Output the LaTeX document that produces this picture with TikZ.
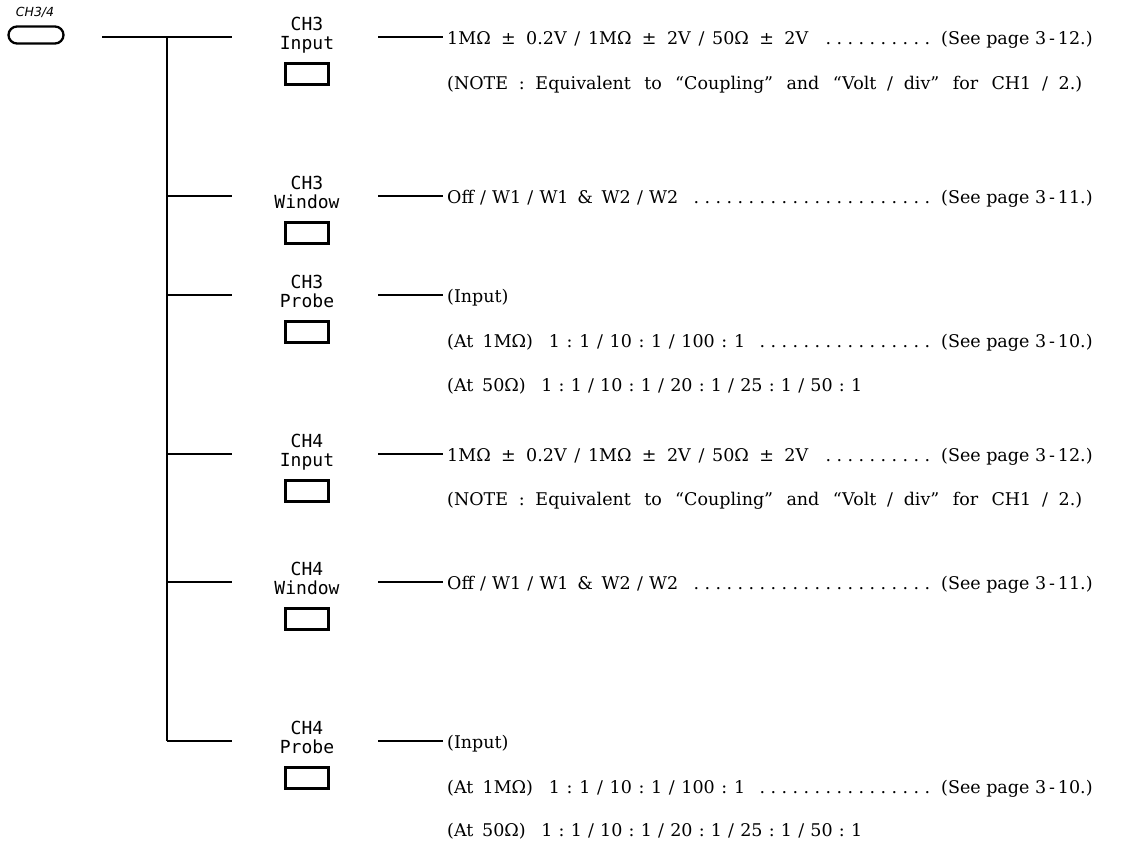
\documentclass[tikz,border=0pt]{standalone}
\usepackage{fontspec}
\setmainfont{DejaVu Serif}
\newfontfamily\labfont{DejaVu Sans Mono}
\newfontfamily\tagfont{DejaVu Sans}
\newcommand\leaderdots[1]{\hbox to #1\dimexpr 11pt\relax{\xleaders\hbox to 11pt{\hss.\hss}\hfill}}
% separator with stretchable spacing
\newcommand\sep[1]{\hspace{0.17em plus 1fil}#1\hspace{0.17em plus 1fil}}
\newcommand\fitto[2]{\hbox to #1pt{#2}}
\newcommand\bodyfont{\fontsize{17.5}{17.5}\selectfont\spaceskip=0.32em plus 1fil\relax}
\tikzset{
  conn/.style={line width=1.5pt},
  btn/.style={draw, line width=3pt, minimum width=43pt, minimum height=21pt, inner sep=0pt},
  lab/.style={font=\labfont\fontsize{18}{18}\selectfont, inner sep=0pt, anchor=base},
  txt/.style={anchor=base west, inner sep=0pt, font=\bodyfont},
  see/.style={anchor=base west, inner sep=0pt, font=\fontsize{17.5}{17.5}\selectfont},
  dts/.style={anchor=base east, inner sep=0pt, font=\fontsize{17.5}{17.5}\selectfont},
}
\newcommand\unit[4]{%
  \node[lab] (#1t) at (307,#2-7) {#3};
  \node[lab] (#1u) at (307,#2+12) {#4};
  \node[btn] (#1b) at (307,#2+37) {};
  \coordinate (#1T) at (167,#2);
  \coordinate (#1L) at (232,#2);
  \coordinate (#1R) at (378,#2);
  \coordinate (#1E) at (443,#2);
  \draw[conn] (#1T) -- (#1L);
  \draw[conn] (#1R) -- (#1E);
}
\begin{document}
\begin{tikzpicture}[x=1pt,y=-1pt]
\useasboundingbox (0,0) rectangle (1126,841);
% main switch
\node[draw, line width=2.3pt, rounded corners=8.5pt, minimum width=55pt, minimum height=17pt, inner sep=0pt] (sw) at (36,35) {};
\node[font=\tagfont\itshape\fontsize{12.5}{12.5}\selectfont, inner sep=0pt] (swl) at (35,12) {CH3/4};
\coordinate (h0) at (102,37);
\coordinate (top) at (167,37);
\unit{a}{37}{CH3}{Input}
\unit{b}{196}{CH3}{Window}
\unit{c}{295}{CH3}{Probe}
\unit{d}{454}{CH4}{Input}
\unit{e}{582}{CH4}{Window}
\unit{f}{741}{CH4}{Probe}
\draw[conn] (h0) -- (aL);
\draw[conn] (top) -- (fT);
% CH3 Input
\node[txt] (a1) at (447,44) {\fitto{361}{1MΩ ± 0.2V\sep{/}1MΩ ± 2V\sep{/}50Ω ± 2V}};
\node[dts] (a1d) at (933,44) {\leaderdots{10}};
\node[see] (a1s) at (941,44) {(See page 3\,-\,12.)};
\node[txt] (a2) at (447,89) {\fitto{635}{(NOTE\sep{:}Equivalent to “Coupling” and “Volt\sep{/}div” for CH1\sep{/}2.)}};
% CH3 Window
\node[txt] (b1) at (447,203) {\fitto{231}{Off\sep{/}W1\sep{/}W1 \& W2\sep{/}W2}};
\node[dts] (b1d) at (933,203) {\leaderdots{22}};
\node[see] (b1s) at (941,203) {(See page 3\,-\,11.)};
% CH3 Probe
\node[txt] (c1) at (447,302) {(Input)};
\node[txt] (c2) at (447,347) {\fitto{298}{(At 1MΩ)\hspace{0.7em plus 1fil}1\sep{:}1\sep{/}10\sep{:}1\sep{/}100\sep{:}1}};
\node[dts] (c2d) at (933,347) {\leaderdots{16}};
\node[see] (c2s) at (941,347) {(See page 3\,-\,10.)};
\node[txt] (c3) at (447,391) {\fitto{415}{(At 50Ω)\hspace{0.7em plus 1fil}1\sep{:}1\sep{/}10\sep{:}1\sep{/}20\sep{:}1\sep{/}25\sep{:}1\sep{/}50\sep{:}1}};
% CH4 Input
\node[txt] (d1) at (447,461) {\fitto{361}{1MΩ ± 0.2V\sep{/}1MΩ ± 2V\sep{/}50Ω ± 2V}};
\node[dts] (d1d) at (933,461) {\leaderdots{10}};
\node[see] (d1s) at (941,461) {(See page 3\,-\,12.)};
\node[txt] (d2) at (447,505) {\fitto{635}{(NOTE\sep{:}Equivalent to “Coupling” and “Volt\sep{/}div” for CH1\sep{/}2.)}};
% CH4 Window
\node[txt] (e1) at (447,589) {\fitto{231}{Off\sep{/}W1\sep{/}W1 \& W2\sep{/}W2}};
\node[dts] (e1d) at (933,589) {\leaderdots{22}};
\node[see] (e1s) at (941,589) {(See page 3\,-\,11.)};
% CH4 Probe
\node[txt] (f1) at (447,748) {(Input)};
\node[txt] (f2) at (447,793) {\fitto{298}{(At 1MΩ)\hspace{0.7em plus 1fil}1\sep{:}1\sep{/}10\sep{:}1\sep{/}100\sep{:}1}};
\node[dts] (f2d) at (933,793) {\leaderdots{16}};
\node[see] (f2s) at (941,793) {(See page 3\,-\,10.)};
\node[txt] (f3) at (447,836) {\fitto{415}{(At 50Ω)\hspace{0.7em plus 1fil}1\sep{:}1\sep{/}10\sep{:}1\sep{/}20\sep{:}1\sep{/}25\sep{:}1\sep{/}50\sep{:}1}};
\end{tikzpicture}
\end{document}
